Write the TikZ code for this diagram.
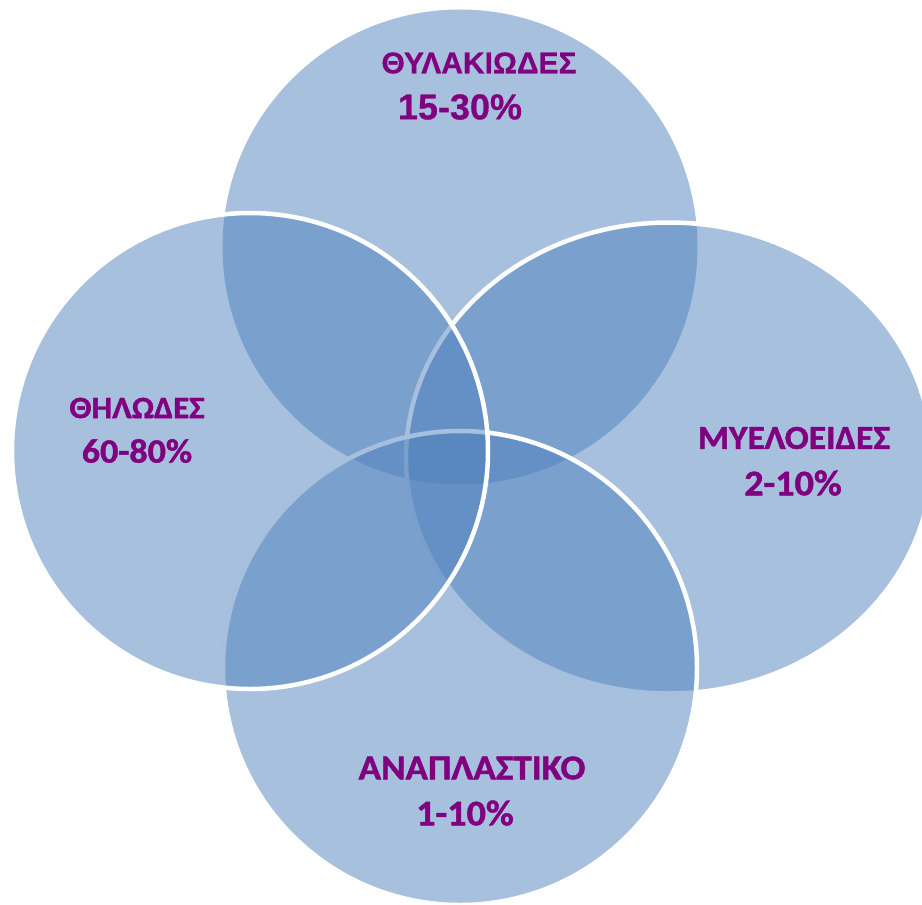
\documentclass[tikz,border=0pt]{standalone}
\usepackage{fontspec}
\setmainfont{Carlito}
\newfontfamily\calibold{Carlito}[UprightFont={* Bold}, FakeStretch=1.06, FakeBold=1.3]
\newfontfamily\arialbold{Liberation Sans}[UprightFont={* Bold}, FakeBold=0.6]
\usetikzlibrary{shapes.geometric}
\definecolor{vennblue}{RGB}{79,129,189}
\definecolor{labelpurple}{RGB}{128,0,128}
\tikzset{
  venn/.style={fill=vennblue, fill opacity=0.5, inner sep=0pt, outer sep=0pt},
  vennedge/.style={venn, draw=white, line width=4.5pt},
  lbl/.style={text=labelpurple, inner sep=0pt, align=center}
}
\begin{document}
\begin{tikzpicture}[x=1pt,y=-1pt]
\useasboundingbox (0,0) rectangle (922,905);
\clip (0,0) rectangle (922,905);
% circles (drawn in stacking order)
\node[venn, circle, minimum size=475pt] (top) at (460,247) {};
\node[vennedge, ellipse, minimum width=526pt, minimum height=471pt] (right) at (669,458) {};
\node[vennedge, circle, minimum size=474pt] (bottom) at (460,668) {};
\node[vennedge, circle, minimum size=476pt] (left) at (250,451) {};
% labels
\node[lbl, font=\arialbold\fontsize{30}{36}\selectfont] (tname) at (479,63) {ΘΥΛΑΚΙΩΔΕΣ};
\node[lbl, font=\arialbold\fontsize{36}{42}\selectfont] (tpct) at (460,107) {15-30\%};
\node[lbl, font=\calibold\fontsize{31}{36}\selectfont] (lname) at (137,408) {ΘΗΛΩΔΕΣ};
\node[lbl, font=\calibold\fontsize{34}{40}\selectfont] (lpct) at (137,451) {60-80\%};
\node[lbl, font=\calibold\fontsize{33.5}{40}\selectfont] (rname) at (794,438) {ΜΥΕΛΟΕΙΔΕΣ};
\node[lbl, font=\calibold\fontsize{36}{40}\selectfont] (rpct) at (793,483) {2-10\%};
\node[lbl, font=\calibold\fontsize{35}{40}\selectfont] (bname) at (472,768) {ΑΝΑΠΛΑΣΤΙΚΟ};
\node[lbl, font=\calibold\fontsize{36}{40}\selectfont] (bpct) at (465,813) {1-10\%};
\end{tikzpicture}
\end{document}
